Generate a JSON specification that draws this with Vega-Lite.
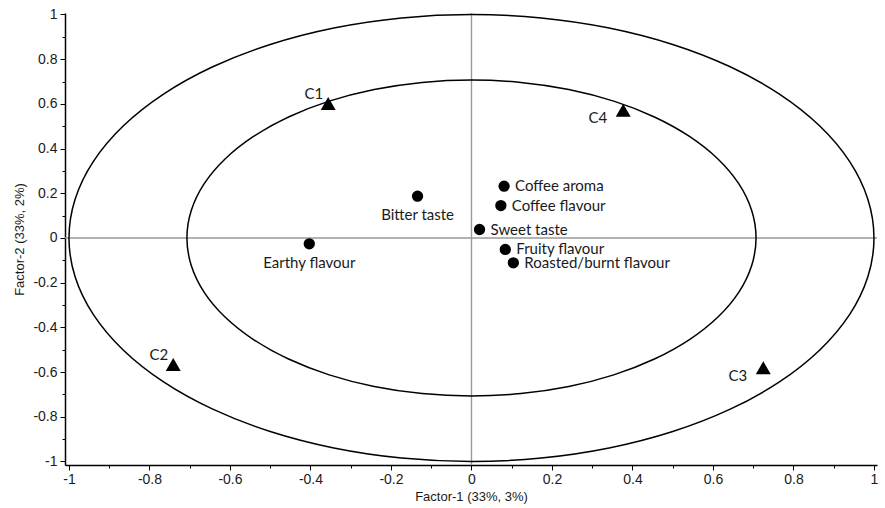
{
  "$schema": "https://vega.github.io/schema/vega-lite/v6.json",
  "autosize": {"type": "none"},
  "padding": {"left": 65, "top": 13, "right": 8, "bottom": 43},
  "width": 812,
  "height": 452,
  "background": "white",
  "config": {"view": {"stroke": null}},
  "datasets": {
    "points": [
      {"name": "C1", "type": "sample", "pos": "upper-left", "x": -0.356, "y": 0.602},
      {"name": "C2", "type": "sample", "pos": "upper-left", "x": -0.741, "y": -0.566},
      {"name": "C3", "type": "sample", "pos": "lower-left", "x": 0.725, "y": -0.581},
      {"name": "C4", "type": "sample", "pos": "lower-left", "x": 0.377, "y": 0.572},
      {"name": "Bitter taste", "type": "attribute", "pos": "below", "x": -0.134, "y": 0.187},
      {"name": "Earthy flavour", "type": "attribute", "pos": "below", "x": -0.403, "y": -0.026},
      {"name": "Coffee aroma", "type": "attribute", "pos": "right", "x": 0.081, "y": 0.232},
      {"name": "Coffee flavour", "type": "attribute", "pos": "right", "x": 0.073, "y": 0.145},
      {"name": "Sweet taste", "type": "attribute", "pos": "right", "x": 0.02, "y": 0.038},
      {"name": "Fruity flavour", "type": "attribute", "pos": "right", "x": 0.084, "y": -0.051},
      {"name": "Roasted/burnt flavour", "type": "attribute", "pos": "right", "x": 0.104, "y": -0.111}
    ],
    "circles": [
      {"ring": "outer", "i": 0, "x": 1, "y": 0},
      {"ring": "outer", "i": 1, "x": 0.9848, "y": 0.1736},
      {"ring": "outer", "i": 2, "x": 0.9397, "y": 0.342},
      {"ring": "outer", "i": 3, "x": 0.866, "y": 0.5},
      {"ring": "outer", "i": 4, "x": 0.766, "y": 0.6428},
      {"ring": "outer", "i": 5, "x": 0.6428, "y": 0.766},
      {"ring": "outer", "i": 6, "x": 0.5, "y": 0.866},
      {"ring": "outer", "i": 7, "x": 0.342, "y": 0.9397},
      {"ring": "outer", "i": 8, "x": 0.1736, "y": 0.9848},
      {"ring": "outer", "i": 9, "x": 0, "y": 1},
      {"ring": "outer", "i": 10, "x": -0.1736, "y": 0.9848},
      {"ring": "outer", "i": 11, "x": -0.342, "y": 0.9397},
      {"ring": "outer", "i": 12, "x": -0.5, "y": 0.866},
      {"ring": "outer", "i": 13, "x": -0.6428, "y": 0.766},
      {"ring": "outer", "i": 14, "x": -0.766, "y": 0.6428},
      {"ring": "outer", "i": 15, "x": -0.866, "y": 0.5},
      {"ring": "outer", "i": 16, "x": -0.9397, "y": 0.342},
      {"ring": "outer", "i": 17, "x": -0.9848, "y": 0.1736},
      {"ring": "outer", "i": 18, "x": -1, "y": 0},
      {"ring": "outer", "i": 19, "x": -0.9848, "y": -0.1736},
      {"ring": "outer", "i": 20, "x": -0.9397, "y": -0.342},
      {"ring": "outer", "i": 21, "x": -0.866, "y": -0.5},
      {"ring": "outer", "i": 22, "x": -0.766, "y": -0.6428},
      {"ring": "outer", "i": 23, "x": -0.6428, "y": -0.766},
      {"ring": "outer", "i": 24, "x": -0.5, "y": -0.866},
      {"ring": "outer", "i": 25, "x": -0.342, "y": -0.9397},
      {"ring": "outer", "i": 26, "x": -0.1736, "y": -0.9848},
      {"ring": "outer", "i": 27, "x": 0, "y": -1},
      {"ring": "outer", "i": 28, "x": 0.1736, "y": -0.9848},
      {"ring": "outer", "i": 29, "x": 0.342, "y": -0.9397},
      {"ring": "outer", "i": 30, "x": 0.5, "y": -0.866},
      {"ring": "outer", "i": 31, "x": 0.6428, "y": -0.766},
      {"ring": "outer", "i": 32, "x": 0.766, "y": -0.6428},
      {"ring": "outer", "i": 33, "x": 0.866, "y": -0.5},
      {"ring": "outer", "i": 34, "x": 0.9397, "y": -0.342},
      {"ring": "outer", "i": 35, "x": 0.9848, "y": -0.1736},
      {"ring": "inner", "i": 0, "x": 0.707, "y": 0},
      {"ring": "inner", "i": 1, "x": 0.6962, "y": 0.1227},
      {"ring": "inner", "i": 2, "x": 0.6644, "y": 0.2418},
      {"ring": "inner", "i": 3, "x": 0.6123, "y": 0.3535},
      {"ring": "inner", "i": 4, "x": 0.5416, "y": 0.4545},
      {"ring": "inner", "i": 5, "x": 0.4545, "y": 0.5416},
      {"ring": "inner", "i": 6, "x": 0.3535, "y": 0.6123},
      {"ring": "inner", "i": 7, "x": 0.2418, "y": 0.6644},
      {"ring": "inner", "i": 8, "x": 0.1227, "y": 0.6962},
      {"ring": "inner", "i": 9, "x": 0, "y": 0.707},
      {"ring": "inner", "i": 10, "x": -0.1227, "y": 0.6962},
      {"ring": "inner", "i": 11, "x": -0.2418, "y": 0.6644},
      {"ring": "inner", "i": 12, "x": -0.3535, "y": 0.6123},
      {"ring": "inner", "i": 13, "x": -0.4545, "y": 0.5416},
      {"ring": "inner", "i": 14, "x": -0.5416, "y": 0.4545},
      {"ring": "inner", "i": 15, "x": -0.6123, "y": 0.3535},
      {"ring": "inner", "i": 16, "x": -0.6644, "y": 0.2418},
      {"ring": "inner", "i": 17, "x": -0.6962, "y": 0.1227},
      {"ring": "inner", "i": 18, "x": -0.707, "y": 0},
      {"ring": "inner", "i": 19, "x": -0.6962, "y": -0.1227},
      {"ring": "inner", "i": 20, "x": -0.6644, "y": -0.2418},
      {"ring": "inner", "i": 21, "x": -0.6123, "y": -0.3535},
      {"ring": "inner", "i": 22, "x": -0.5416, "y": -0.4545},
      {"ring": "inner", "i": 23, "x": -0.4545, "y": -0.5416},
      {"ring": "inner", "i": 24, "x": -0.3535, "y": -0.6123},
      {"ring": "inner", "i": 25, "x": -0.2418, "y": -0.6644},
      {"ring": "inner", "i": 26, "x": -0.1227, "y": -0.6962},
      {"ring": "inner", "i": 27, "x": 0, "y": -0.707},
      {"ring": "inner", "i": 28, "x": 0.1227, "y": -0.6962},
      {"ring": "inner", "i": 29, "x": 0.2418, "y": -0.6644},
      {"ring": "inner", "i": 30, "x": 0.3535, "y": -0.6123},
      {"ring": "inner", "i": 31, "x": 0.4545, "y": -0.5416},
      {"ring": "inner", "i": 32, "x": 0.5416, "y": -0.4545},
      {"ring": "inner", "i": 33, "x": 0.6123, "y": -0.3535},
      {"ring": "inner", "i": 34, "x": 0.6644, "y": -0.2418},
      {"ring": "inner", "i": 35, "x": 0.6962, "y": -0.1227}
    ],
    "cross": [
      {"x": 0, "y": 0}
    ]
  },
  "encoding": {
    "x": {
      "field": "x",
      "type": "quantitative",
      "scale": {"domain": [-1.0099, 1.0075], "nice": false, "zero": false},
      "axis": {
        "title": "Factor-1 (33%, 3%)",
        "values": [-1, -0.9, -0.8, -0.7, -0.6, -0.5, -0.4, -0.3, -0.2, -0.1, 0, 0.1, 0.2, 0.3, 0.4, 0.5, 0.6, 0.7, 0.8, 0.9, 1],
        "labelExpr": "abs(round(datum.value*10)) % 2 == 1 ? '' : '' + datum.value",
        "labelOverlap": false,
        "labelFlush": false,
        "grid": false,
        "domainColor": "#000000",
        "domainWidth": 1.5,
        "tickColor": "#000000",
        "tickWidth": 1,
        "tickSize": {"condition": {"test": "abs(round(datum.value*10)) % 2 == 1", "value": 3}, "value": 5},
        "labelFont": "Liberation Sans",
        "labelFontSize": 14,
        "labelColor": "#1a1a1a",
        "labelPadding": 2,
        "titleFont": "Liberation Sans",
        "titleFontSize": 13,
        "titleFontWeight": "normal",
        "titleColor": "#1a1a1a",
        "titlePadding": 4
      }
    },
    "y": {
      "field": "y",
      "type": "quantitative",
      "scale": {"domain": [-1.0157, 1.0067], "nice": false, "zero": false},
      "axis": {
        "title": "Factor-2 (33%, 2%)",
        "values": [-1, -0.9, -0.8, -0.7, -0.6, -0.5, -0.4, -0.3, -0.2, -0.1, 0, 0.1, 0.2, 0.3, 0.4, 0.5, 0.6, 0.7, 0.8, 0.9, 1],
        "labelExpr": "abs(round(datum.value*10)) % 2 == 1 ? '' : '' + datum.value",
        "labelOverlap": false,
        "labelFlush": false,
        "grid": false,
        "domainColor": "#000000",
        "domainWidth": 1.5,
        "tickColor": "#000000",
        "tickWidth": 1,
        "tickSize": {"condition": {"test": "abs(round(datum.value*10)) % 2 == 1", "value": 3}, "value": 5},
        "labelFont": "Liberation Sans",
        "labelFontSize": 14,
        "labelColor": "#1a1a1a",
        "labelPadding": 3,
        "titleFont": "Liberation Sans",
        "titleFontSize": 13,
        "titleFontWeight": "normal",
        "titleColor": "#1a1a1a",
        "titlePadding": 6
      }
    }
  },
  "layer": [
    {
      "data": {"name": "cross"},
      "mark": {"type": "rule", "color": "#9a9a9a", "strokeWidth": 1.4},
      "encoding": {"y": {"field": "y", "type": "quantitative"}, "x": null}
    },
    {
      "data": {"name": "cross"},
      "mark": {"type": "rule", "color": "#9a9a9a", "strokeWidth": 1.4},
      "encoding": {"x": {"field": "x", "type": "quantitative"}, "y": null}
    },
    {
      "data": {"name": "circles"},
      "mark": {"type": "line", "color": "#000000", "strokeWidth": 1.5, "interpolate": "cardinal-closed"},
      "encoding": {
        "detail": {"field": "ring", "type": "nominal"},
        "order": {"field": "i", "type": "quantitative"}
      }
    },
    {
      "data": {"name": "points"},
      "transform": [{"filter": "datum.type == 'attribute'"}],
      "mark": {"type": "point", "shape": "circle", "filled": true, "color": "#000000", "size": 128, "opacity": 1}
    },
    {
      "data": {"name": "points"},
      "transform": [{"filter": "datum.type == 'sample'"}],
      "mark": {"type": "point", "shape": "triangle-up", "filled": true, "color": "#000000", "size": 225, "opacity": 1}
    },
    {
      "data": {"name": "points"},
      "transform": [{"filter": "datum.pos == 'right'"}],
      "mark": {"type": "text", "align": "left", "baseline": "middle", "dx": 11, "font": "Lato", "fontSize": 15, "color": "#1a1a1a"},
      "encoding": {"text": {"field": "name"}}
    },
    {
      "data": {"name": "points"},
      "transform": [{"filter": "datum.pos == 'below'"}],
      "mark": {"type": "text", "align": "center", "baseline": "middle", "dx": 0, "dy": 19, "font": "Lato", "fontSize": 15, "color": "#1a1a1a"},
      "encoding": {"text": {"field": "name"}}
    },
    {
      "data": {"name": "points"},
      "transform": [{"filter": "datum.pos == 'upper-left'"}],
      "mark": {"type": "text", "align": "right", "baseline": "middle", "dx": -5, "dy": -9, "font": "Lato", "fontSize": 15, "color": "#1a1a1a"},
      "encoding": {"text": {"field": "name"}}
    },
    {
      "data": {"name": "points"},
      "transform": [{"filter": "datum.pos == 'lower-left'"}],
      "mark": {"type": "text", "align": "right", "baseline": "middle", "dx": -16, "dy": 8, "font": "Lato", "fontSize": 15, "color": "#1a1a1a"},
      "encoding": {"text": {"field": "name"}}
    }
  ]
}
